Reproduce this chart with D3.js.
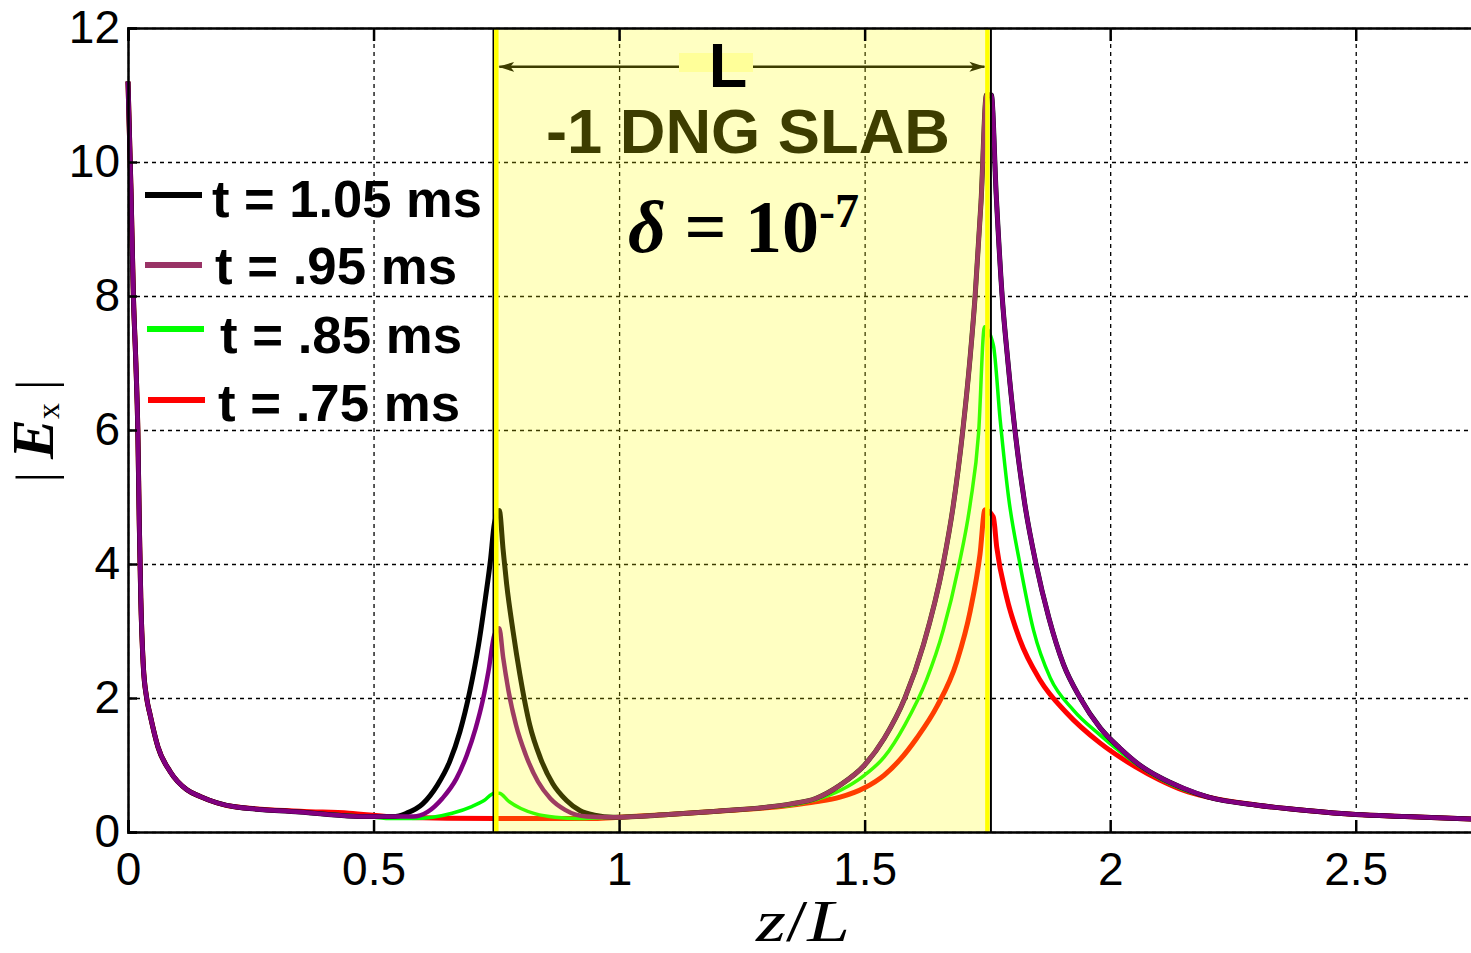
<!DOCTYPE html>
<html>
<head>
<meta charset="utf-8">
<script src="https://cdn.jsdelivr.net/npm/d3@7"></script>
<style>
  body { margin: 0; background: #fff; overflow: hidden; }
  .grid line { stroke: #000; stroke-width: 1.3; stroke-dasharray: 4,4; }
  .grid path { display: none; }
  .axis path, .axis line { stroke: #000; stroke-width: 2.5; }
  .axis text { font-family: "Liberation Sans", Arial, sans-serif; font-size: 46px; fill: #000; }
</style>
</head>
<body>
<script>
'use strict';
// 축 눈금
const xTicks = [0, 0.5, 1, 1.5, 2, 2.5];
const xTickLabels = ['0', '0.5', '1', '1.5', '2', '2.5'];
const yTicks = [0, 2, 4, 6, 8, 10, 12];

// 슬랩 구간 (z/L)
const slab = [0.75, 1.75];

// 범례
const legendLabels = ['t = 1.05 ms', 't = .95 ms', 't = .85 ms', 't = .75 ms'];

// 공통 구간 (왼쪽 감쇠)
const leftDecay = [[0, 11.2], [0.006, 9.6], [0.011, 8.0], [0.016, 7.0], [0.02, 6.0], [0.023, 4.6],
  [0.026, 3.5], [0.031, 2.5], [0.038, 2.0], [0.045, 1.75], [0.061, 1.27], [0.086, 0.9],
  [0.12, 0.63], [0.147, 0.53], [0.214, 0.38], [0.35, 0.30], [0.487, 0.23]];
// 공통 구간 (오른쪽 꼬리)
const rightTail = [[2.2, 0.52], [2.3, 0.4], [2.4, 0.32], [2.5, 0.26], [2.6, 0.23], [2.75, 0.19]];
// 슬랩 안 공통 구간
const slabMid = [[1.1, 0.26], [1.2, 0.31], [1.3, 0.37], [1.35, 0.42], [1.4, 0.5]];

// |Ex| 값: [z/L, |Ex|]
const leftPeak105 = [[0.54, 0.23], [0.567, 0.28], [0.6, 0.42], [0.63, 0.7], [0.655, 1.05], [0.676, 1.5],
  [0.696, 2.1], [0.714, 2.8], [0.728, 3.5], [0.738, 4.05], [0.746, 4.6], [0.756, 4.8], [0.764, 4.2],
  [0.771, 3.7], [0.784, 3.0], [0.798, 2.35], [0.818, 1.6], [0.84, 1.1], [0.865, 0.72], [0.893, 0.47],
  [0.92, 0.32], [0.95, 0.25], [0.988, 0.22]];
const leftPeak095 = [[0.54, 0.23], [0.581, 0.23], [0.61, 0.3], [0.64, 0.5], [0.669, 0.8], [0.69, 1.15],
  [0.708, 1.55], [0.722, 1.95], [0.734, 2.4], [0.746, 2.94], [0.756, 3.04], [0.764, 2.6], [0.775, 2.1],
  [0.79, 1.6], [0.81, 1.15], [0.835, 0.75], [0.86, 0.5], [0.89, 0.33], [0.934, 0.23], [0.988, 0.22]];
const rightPeak105 = [[1.45, 0.7], [1.5, 1.0], [1.54, 1.4], [1.582, 2.0], [1.62, 2.8], [1.66, 4.0],
  [1.68, 4.85], [1.70, 6.0], [1.715, 7.1], [1.725, 8.0], [1.737, 9.4], [1.748, 11.0], [1.758, 11.0],
  [1.768, 9.5], [1.78, 8.0], [1.792, 7.0], [1.806, 6.0], [1.826, 4.9], [1.849, 4.0], [1.875, 3.2],
  [1.905, 2.5], [1.939, 2.0], [1.98, 1.55], [2.02, 1.25], [2.06, 1.0], [2.1, 0.82], [2.15, 0.65]];
const t105 = leftPeak105.concat(slabMid, rightPeak105);
const t095 = leftPeak095.concat(slabMid, rightPeak105);
const t085 = [[0.54, 0.2], [0.58, 0.2], [0.62, 0.22], [0.66, 0.28], [0.7, 0.38], [0.725, 0.47],
  [0.746, 0.58], [0.756, 0.58], [0.775, 0.46], [0.8, 0.35], [0.83, 0.27], [0.87, 0.22], [0.92, 0.2],
  [0.988, 0.22], [1.1, 0.26], [1.2, 0.31], [1.3, 0.37], [1.35, 0.4], [1.4, 0.48], [1.45, 0.62],
  [1.5, 0.85], [1.54, 1.12], [1.582, 1.6], [1.626, 2.27], [1.660, 3.01], [1.691, 3.95], [1.715, 4.9],
  [1.732, 5.95], [1.744, 7.54], [1.762, 7.27], [1.776, 6.15], [1.793, 5.0], [1.816, 4.01], [1.844, 3.01],
  [1.878, 2.3], [1.925, 1.82], [1.979, 1.45], [2.02, 1.2], [2.06, 0.98], [2.1, 0.8], [2.15, 0.63]];
const t075 = [[0.55, 0.22], [0.75, 0.2], [0.95, 0.2], [1.0, 0.22], [1.1, 0.26], [1.2, 0.31], [1.3, 0.36],
  [1.35, 0.4], [1.4, 0.45], [1.45, 0.52], [1.5, 0.66], [1.54, 0.85], [1.572, 1.08], [1.606, 1.4],
  [1.647, 1.87], [1.688, 2.55], [1.715, 3.3], [1.735, 4.15], [1.745, 4.81], [1.762, 4.70], [1.769, 4.25],
  [1.789, 3.51], [1.816, 2.87], [1.857, 2.27], [1.911, 1.78], [1.979, 1.33], [2.05, 0.98], [2.1, 0.78],
  [2.15, 0.62]];

const seriesData = [leftDecay.concat(t105, rightTail), leftDecay.concat(t095, rightTail),
  leftDecay.concat(t085, rightTail), leftDecay.slice(0, -2).concat([[0.35, 0.31], [0.45, 0.28]], t075, rightTail)];
const curveColors = ['#000000', '#800080', '#00ff00', '#ff0000'];
const curveWidths = [5, 4.5, 3.5, 5];
const legendColors = ['#000000', '#993366', '#00ff00', '#ff0000'];
const drawOrder = [3, 2, 0, 1];

const W = 1471, H = 953;
const x = d3.scaleLinear().domain([0, 2.75]).range([128, 1478.5]);
const y = d3.scaleLinear().domain([0, 12]).range([832, 28]);

const svg = d3.select(document.body).append('svg')
  .attr('width', W).attr('height', H);

// 화살표 마커
const defs = svg.append('defs');
defs.append('marker').attr('id', 'arrEnd')
  .attr('viewBox', '0 0 16 12').attr('refX', 15).attr('refY', 6)
  .attr('markerWidth', 16).attr('markerHeight', 12).attr('markerUnits', 'userSpaceOnUse')
  .attr('orient', 'auto')
  .append('path').attr('d', 'M0,1 L16,6 L0,11 L4,6 Z').attr('fill', '#000');
defs.append('marker').attr('id', 'arrStart')
  .attr('viewBox', '0 0 16 12').attr('refX', 1).attr('refY', 6)
  .attr('markerWidth', 16).attr('markerHeight', 12).attr('markerUnits', 'userSpaceOnUse')
  .attr('orient', 'auto')
  .append('path').attr('d', 'M16,1 L0,6 L16,11 L12,6 Z').attr('fill', '#000');

// 그리드
svg.append('g').attr('class', 'grid')
  .attr('transform', 'translate(0,832)')
  .call(d3.axisBottom(x).tickValues(xTicks).tickSize(-804).tickFormat(''));
svg.append('g').attr('class', 'grid')
  .attr('transform', 'translate(128,0)')
  .call(d3.axisLeft(y).tickValues(yTicks).tickSize(-1360).tickFormat(''));

// 곡선
const line = d3.line().x(d => x(d[0])).y(d => y(d[1])).curve(d3.curveMonotoneX);
svg.append('g').selectAll('path')
  .data(drawOrder)
  .enter().append('path')
  .attr('d', i => line(seriesData[i]))
  .attr('fill', 'none')
  .attr('stroke', i => curveColors[i])
  .attr('stroke-width', i => curveWidths[i])
  .attr('stroke-linejoin', 'round');

// 슬랩 안의 글자와 화살표 (반투명 노란색 아래)
svg.append('line')
  .attr('x1', x(slab[0]) + 3).attr('x2', x(slab[1]) - 3)
  .attr('y1', y(11.42)).attr('y2', y(11.42))
  .attr('stroke', '#000').attr('stroke-width', 2.5)
  .attr('marker-start', 'url(#arrStart)').attr('marker-end', 'url(#arrEnd)');
svg.append('text')
  .attr('x', 546).attr('y', 153)
  .attr('textLength', 404).attr('lengthAdjust', 'spacingAndGlyphs')
  .style('font-family', '"Liberation Sans", Arial, sans-serif')
  .style('font-weight', 'bold').style('font-size', '63px')
  .attr('fill', '#000')
  .text('-1 DNG SLAB');

// 슬랩 영역
svg.append('rect')
  .attr('x', x(slab[0])).attr('y', y(12))
  .attr('width', x(slab[1]) - x(slab[0])).attr('height', y(0) - y(12))
  .attr('fill', '#ffff00').attr('fill-opacity', 0.24);
svg.append('line')
  .attr('x1', x(slab[0]) - 3).attr('x2', x(slab[0]) - 3)
  .attr('y1', y(12)).attr('y2', y(0)).attr('stroke', '#000').attr('stroke-width', 1.6);
svg.append('line')
  .attr('x1', x(slab[1]) + 3.5).attr('x2', x(slab[1]) + 3.5)
  .attr('y1', y(12)).attr('y2', y(0)).attr('stroke', '#000').attr('stroke-width', 2);
svg.selectAll('.slabEdge')
  .data(slab).enter().append('line')
  .attr('class', 'slabEdge')
  .attr('x1', d => x(d)).attr('x2', d => x(d))
  .attr('y1', y(12)).attr('y2', y(0))
  .attr('stroke', '#ffff00').attr('stroke-width', 4.5);

// L 표시
svg.append('rect')
  .attr('x', 679).attr('y', 53).attr('width', 74).attr('height', 19)
  .attr('fill', '#ffff99');
svg.append('text')
  .attr('x', 728).attr('y', 87)
  .attr('text-anchor', 'middle')
  .style('font-family', '"Liberation Sans", Arial, sans-serif')
  .style('font-weight', 'bold').style('font-size', '63px')
  .attr('fill', '#000')
  .text('L');

// delta
const dText = svg.append('text')
  .attr('x', 628).attr('y', 252)
  .style('font-family', '"Liberation Serif", "Times New Roman", serif')
  .style('font-weight', 'bold').style('font-size', '74px')
  .attr('fill', '#000');
dText.append('tspan').style('font-style', 'italic').text('δ');
dText.append('tspan').text(' = 10');
dText.append('tspan').attr('dy', -25).style('font-size', '48px').text('-7');

// 축
svg.append('g').attr('class', 'axis')
  .attr('transform', 'translate(0,832)')
  .call(d3.axisBottom(x).tickValues(xTicks).tickSize(-12).tickPadding(20)
    .tickFormat((d, i) => xTickLabels[i]));
svg.append('g').attr('class', 'axis')
  .attr('transform', 'translate(0,28)')
  .call(d3.axisTop(x).tickValues(xTicks).tickSize(-13).tickFormat(''));
svg.append('g').attr('class', 'axis')
  .attr('transform', 'translate(128,0)')
  .call(d3.axisLeft(y).tickValues(yTicks).tickSize(-9).tickPadding(8));

// 범례
const legend = svg.append('g');
const legendY = [195, 265, 329, 400];
const legendX = [145, 145, 147, 148];
const textX = [212, 215, 220, 218];
const textY = [217, 284, 353, 421];
const textW = [270, 242, 242, 242];
legend.selectAll('line')
  .data(legendLabels).enter().append('line')
  .attr('x1', (d, i) => legendX[i]).attr('x2', (d, i) => legendX[i] + 57)
  .attr('y1', (d, i) => legendY[i]).attr('y2', (d, i) => legendY[i])
  .attr('stroke', (d, i) => legendColors[i]).attr('stroke-width', 6);
legend.selectAll('text')
  .data(legendLabels).enter().append('text')
  .attr('x', (d, i) => textX[i]).attr('y', (d, i) => textY[i])
  .attr('textLength', (d, i) => textW[i]).attr('lengthAdjust', 'spacingAndGlyphs')
  .style('font-family', '"Liberation Sans", Arial, sans-serif')
  .style('font-weight', 'bold').style('font-size', '52px')
  .attr('fill', '#000')
  .text(d => d);

// 축 제목
const xLabel = svg.append('text')
  .attr('x', 756).attr('y', 941)
  .attr('textLength', 94).attr('lengthAdjust', 'spacingAndGlyphs')
  .style('font-family', '"Liberation Serif", "Times New Roman", serif')
  .style('font-style', 'italic').style('font-size', '60px')
  .attr('fill', '#000');
xLabel.append('tspan').text('z');
xLabel.append('tspan').style('font-style', 'normal').text('/');
xLabel.append('tspan').text('L');

const yLabel = svg.append('text')
  .attr('transform', 'translate(53,431) rotate(-90)')
  .attr('text-anchor', 'middle')
  .style('font-family', '"Liberation Serif", "Times New Roman", serif')
  .style('font-size', '52px')
  .attr('fill', '#000');
yLabel.append('tspan').style('font-weight', '300').text('| ');
yLabel.append('tspan').style('font-weight', 'bold').style('font-style', 'italic').style('font-size', '60px').text('E');
yLabel.append('tspan').attr('dy', 6).style('font-size', '32px').text('x');
yLabel.append('tspan').attr('dy', -6).text(' |');
</script>
</body>
</html>
